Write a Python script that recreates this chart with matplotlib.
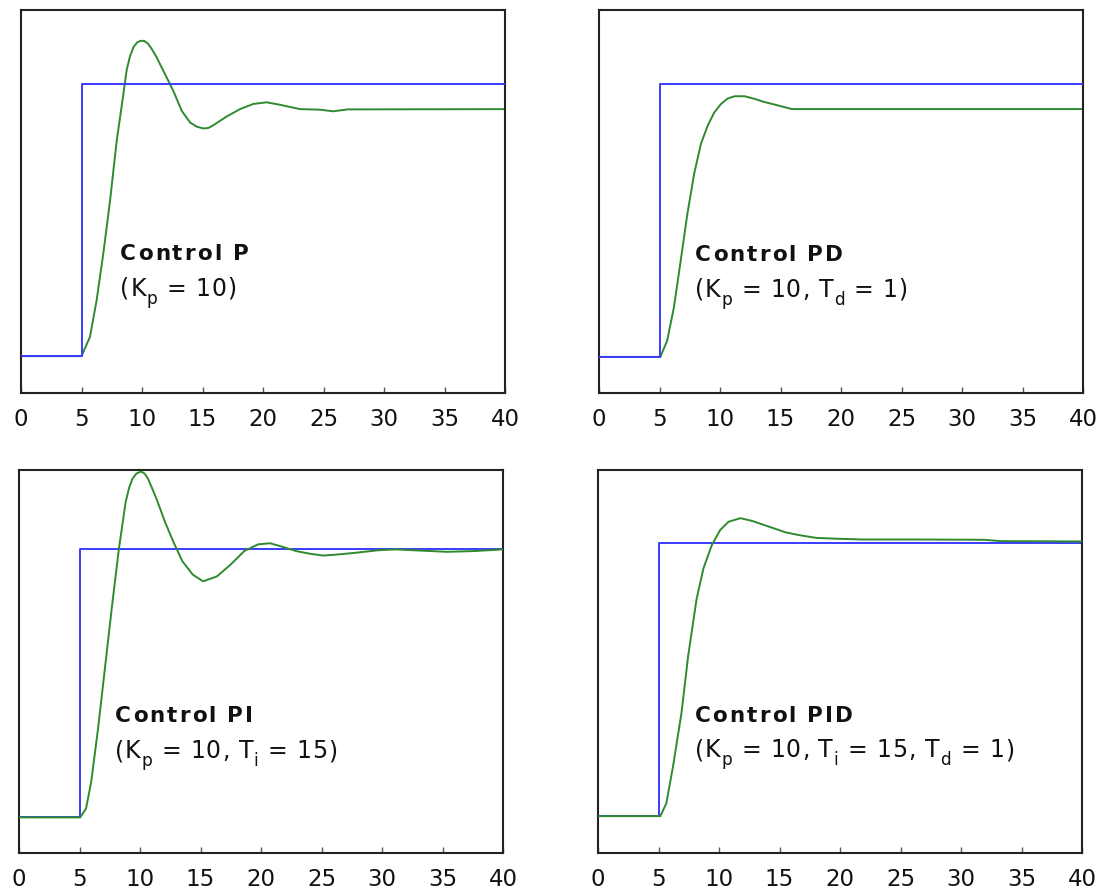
import matplotlib
matplotlib.use("Agg")
import matplotlib.pyplot as plt
from matplotlib.font_manager import FontProperties, findfont, get_font
from matplotlib.transforms import offset_copy

# set point: step from 0 to 1 at t = 5
step_t = [0, 5, 40]
step_y = [0, 1, 1]

# P control (Kp = 10)
p_t = [0, 5.0, 5.7, 6.25, 6.8, 7.36, 7.91, 8.46, 8.73, 9.0, 9.3, 9.6, 9.9, 10.2, 10.5,
       10.8, 11.2, 12.04, 12.59, 13.28, 13.97, 14.5, 15.07, 15.5, 15.9, 17.0, 18.1,
       19.2, 20.3, 21.4, 23.06, 24.7, 25.8, 27.0, 40]
p_y = [0, 0, 0.071, 0.205, 0.376, 0.571, 0.791, 0.962, 1.05, 1.10, 1.135, 1.152, 1.158,
       1.157, 1.147, 1.128, 1.098, 1.023, 0.974, 0.901, 0.858, 0.843, 0.836, 0.838,
       0.848, 0.880, 0.907, 0.926, 0.932, 0.923, 0.907, 0.905, 0.899, 0.906, 0.907]

# PD control (Kp = 10, Td = 1)
pd_t = [0, 5.07, 5.63, 6.19, 6.75, 7.30, 7.86, 8.42, 8.98, 9.53, 10.09, 10.65,
        11.21, 12.04, 12.88, 13.57, 14.55, 15.94, 40]
pd_y = [0, 0, 0.059, 0.181, 0.352, 0.523, 0.670, 0.780, 0.847, 0.896, 0.927, 0.947,
        0.955, 0.955, 0.945, 0.935, 0.924, 0.908, 0.908]

# PI control (Kp = 10, Ti = 15)
pi_t = [0, 5.06, 5.54, 5.97, 6.54, 7.11, 7.68, 8.25, 8.81, 9.1, 9.38, 9.7, 10.09, 10.4,
        10.66, 11.0, 11.37, 12.08, 12.79, 13.5, 14.36, 15.21, 16.35, 17.48, 18.62,
        19.76, 20.75, 21.75, 22.89, 24.02, 25.16, 26.3, 27.72, 29.71, 31.13, 33.97,
        35.4, 37.67, 40]
pi_y = [0, 0, 0.033, 0.133, 0.334, 0.560, 0.786, 1.0, 1.176, 1.23, 1.264, 1.283, 1.291,
        1.282, 1.264, 1.228, 1.188, 1.101, 1.025, 0.956, 0.906, 0.881, 0.899, 0.943,
        0.994, 1.019, 1.023, 1.010, 0.994, 0.984, 0.977, 0.981, 0.987, 0.997, 1.0,
        0.994, 0.991, 0.994, 1.0]

# PID control (Kp = 10, Ti = 15, Td = 1)
pid_t = [0, 5.15, 5.65, 6.2, 6.9, 7.45, 8.15, 8.71, 9.4, 10.1, 10.79, 11.77, 12.74,
         14.13, 15.52, 16.63, 18.02, 19.69, 21.92, 26.37, 31.93, 33.3, 40]
pid_y = [0, 0, 0.047, 0.182, 0.378, 0.586, 0.795, 0.906, 0.991, 1.047, 1.077, 1.090, 1.080,
         1.059, 1.038, 1.028, 1.018, 1.015, 1.012, 1.012, 1.011, 1.006, 1.005]

x_ticks = [0, 5, 10, 15, 20, 25, 30, 35, 40]

blue = "#3b3bff"
green = "#2f8a2f"

fig = plt.figure(figsize=(11.09, 8.91), dpi=100)


def spaced_text(ax, x, y, parts, size, weight="normal", track=1.45):
    # draws text char by char so the wide letter spacing can be copied
    off = 0.0
    for s, sub in parts:
        fs = size * 0.72 if sub else size
        dy = -size * 0.34 if sub else 0.0
        prop = FontProperties(family="DejaVu Sans", size=fs, weight=weight)
        font = get_font(findfont(prop))
        font.set_size(fs, 72)
        for ch in s:
            tr = offset_copy(ax.transAxes, fig=ax.figure, x=off, y=dy, units="points")
            ax.text(x, y, ch, transform=tr, fontproperties=prop, color="#111111",
                    ha="left", va="baseline")
            g = font.load_char(ord(ch))
            off += g.linearHoriAdvance / 65536 + track


panels = [
    # rect, t, y, ylim, title, params, text position, green on top
    ([21 / 1109, 0.5593, 484 / 1109, 0.4295], p_t, p_y, (-0.134, 1.271),
     "Control P", [("(K", False), ("p", True), (" = 10)", False)],
     (0.205, 0.347, 0.253), False),
    ([599 / 1109, 0.5593, 484 / 1109, 0.4295], pd_t, pd_y, (-0.131, 1.271),
     "Control PD", [("(K", False), ("p", True), (" = 10, T", False), ("d", True), (" = 1)", False)],
     (0.198, 0.344, 0.250), False),
    ([19 / 1109, 0.0426, 484 / 1109, 0.4295], pi_t, pi_y, (-0.133, 1.295),
     "Control PI", [("(K", False), ("p", True), (" = 10, T", False), ("i", True), (" = 15)", False)],
     (0.198, 0.342, 0.248), True),
    ([598 / 1109, 0.0426, 484 / 1109, 0.4295], pid_t, pid_y, (-0.135, 1.265),
     "Control PID", [("(K", False), ("p", True), (" = 10, T", False), ("i", True),
                     (" = 15, T", False), ("d", True), (" = 1)", False)],
     (0.200, 0.342, 0.250), True),
]

for rect, t, y, ylim, title, params, txt, green_top in panels:
    ax = fig.add_axes(rect)
    z_b, z_g = (2, 3) if green_top else (3, 2)
    ax.plot(step_t, step_y, drawstyle="steps-post", color=blue, lw=1.4, zorder=z_b)
    ax.plot(t, y, color=green, lw=1.4, zorder=z_g)
    ax.set_xlim(0, 40)
    ax.set_ylim(*ylim)
    ax.set_yticks([])
    ax.set_xticks(x_ticks)
    ax.set_xticklabels([str(v) for v in x_ticks])
    ax.tick_params(axis="x", direction="in", length=4, width=1, color="#555555",
                   pad=11, labelsize=16.5, labelcolor="#111111")
    for sp in ax.spines.values():
        sp.set_color("#222222")
        sp.set_linewidth(1.5)
    tx, ty1, ty2 = txt
    spaced_text(ax, tx, ty1, [(title, False)], 15.5, weight="bold", track=1.45)
    spaced_text(ax, tx, ty2, params, 17, track=0.6)

fig.savefig("out.png", dpi=100)
